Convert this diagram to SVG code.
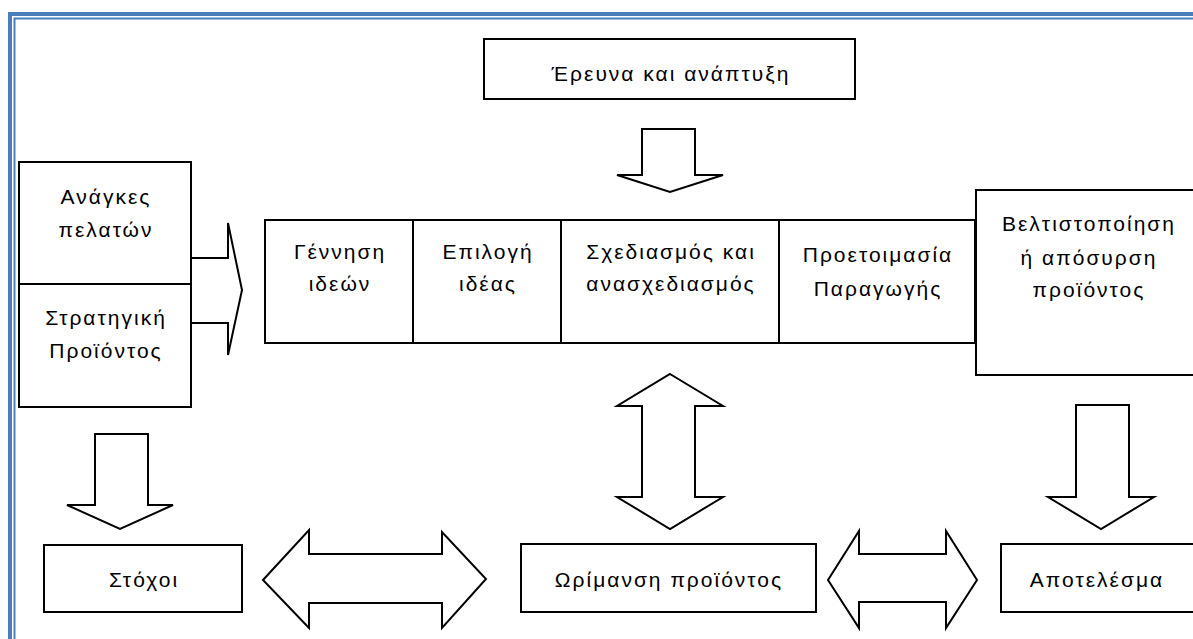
<svg xmlns="http://www.w3.org/2000/svg" width="1193" height="639" viewBox="0 0 1193 639">
<style>
.box{fill:#fff;stroke:#000;stroke-width:2}
.ln{stroke:#000;stroke-width:2;fill:none}
.arr{fill:#fff;stroke:#000;stroke-width:2;stroke-linejoin:miter}
text{font-family:"Liberation Sans","DejaVu Sans",sans-serif;font-size:21px;letter-spacing:2px;text-anchor:middle;fill:#000}
</style>
<rect x="0" y="0" width="1193" height="639" fill="#fff"/>
<g id="frame">
<rect x="10" y="14" width="1220" height="700" fill="none" stroke="#4A7EBB" stroke-width="4"/>
<rect x="14.5" y="18.5" width="1220" height="700" fill="none" stroke="#4A7EBB" stroke-width="2"/>
</g>
<g id="connectors">
<polygon class="arr" points="191,258 228,258 228,223 242,290 228,355 228,323 191,323"/>
<polygon class="arr" points="642,129 695,129 695,175 723,175 670,192 617,175 642,175"/>
<polygon class="arr" points="95,434 148,434 148,505 173,505 120,529 67,505 95,505"/>
<polygon class="arr" points="670,374 723,406 695,406 695,497 723,497 670,529 617,497 642,497 642,406 617,406"/>
<polygon class="arr" points="263,580 309,530 309,554 442,554 442,532 486,579 442,628 442,603 309,603 309,628"/>
<polygon class="arr" points="828,580 859,531 859,554 946,554 946,531 977,580 946,628 946,602 859,602 859,628"/>
<polygon class="arr" points="1076,405 1129,405 1129,497 1154,497 1101,529 1048,497 1076,497"/>
</g>
<g id="research">
<rect class="box" x="484" y="39" width="371" height="60"/>
<text x="671" y="81">Έρευνα και ανάπτυξη</text>
</g>
<g id="inputs">
<rect class="box" x="19" y="162" width="172" height="245"/>
<line class="ln" x1="19" y1="284" x2="191" y2="284"/>
<text x="106" y="204">Ανάγκες</text>
<text x="106" y="237">πελατών</text>
<text x="106" y="325">Στρατηγική</text>
<text x="106" y="358">Προϊόντος</text>
</g>
<g id="process">
<rect class="box" x="265" y="220" width="710" height="123"/>
<line class="ln" x1="413" y1="220" x2="413" y2="343"/>
<line class="ln" x1="561" y1="220" x2="561" y2="343"/>
<line class="ln" x1="779" y1="220" x2="779" y2="343"/>
<text x="340" y="259">Γέννηση</text>
<text x="340" y="291">ιδεών</text>
<text x="488" y="259">Επιλογή</text>
<text x="488" y="291">ιδέας</text>
<text x="671" y="259">Σχεδιασμός και</text>
<text x="671" y="291">ανασχεδιασμός</text>
<text x="878" y="262">Προετοιμασία</text>
<text x="878" y="296">Παραγωγής</text>
</g>
<g id="optimization">
<rect class="box" x="976" y="190" width="230" height="185"/>
<text x="1089" y="231">Βελτιστοποίηση</text>
<text x="1089" y="265">ή απόσυρση</text>
<text x="1089" y="297">προϊόντος</text>
</g>
<g id="goals">
<rect class="box" x="44" y="545" width="198" height="67"/>
<text x="144" y="587">Στόχοι</text>
</g>
<g id="maturity">
<rect class="box" x="521" y="544" width="295" height="68"/>
<text x="669" y="587">Ωρίμανση προϊόντος</text>
</g>
<g id="result">
<rect class="box" x="1001" y="544" width="210" height="68"/>
<text x="1097" y="587">Αποτελέσμα</text>
</g>
</svg>
